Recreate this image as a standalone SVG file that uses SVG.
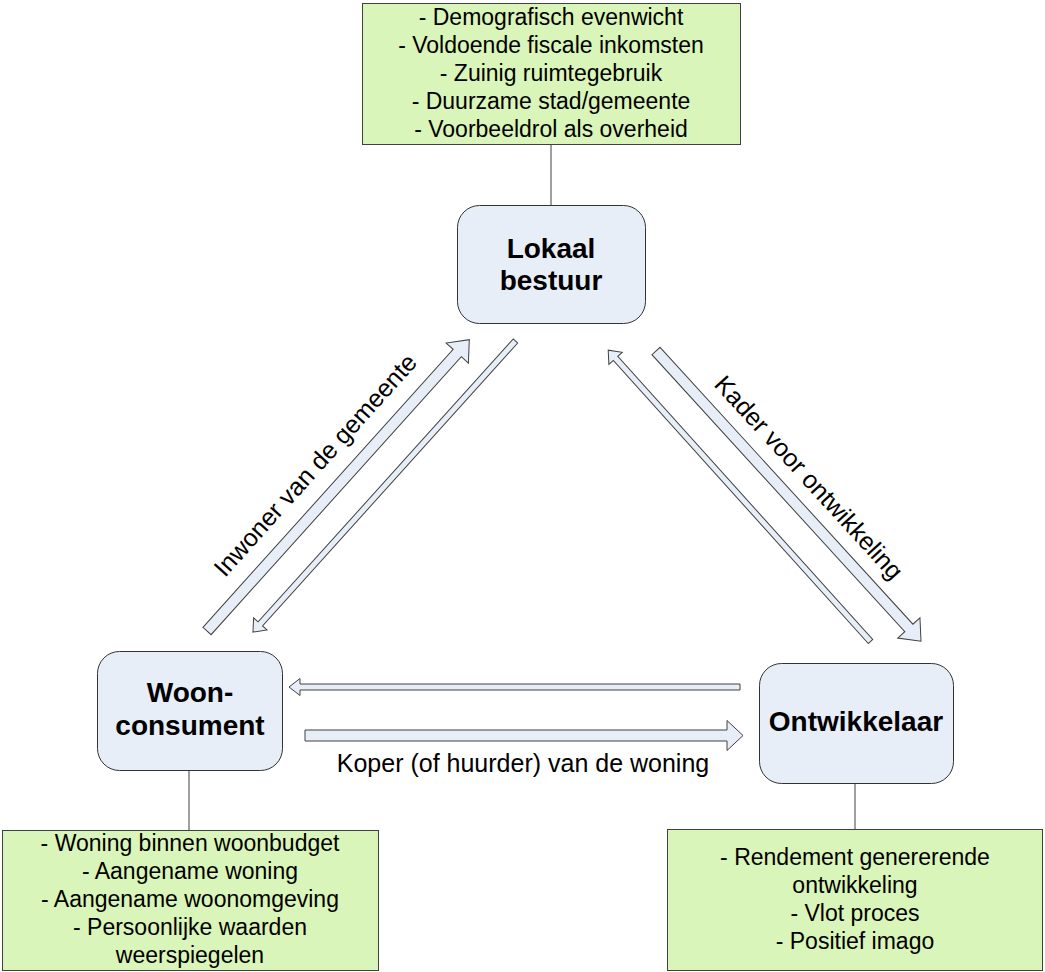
<svg xmlns="http://www.w3.org/2000/svg" width="1045" height="972" viewBox="0 0 1045 972">
<style>
.goal{fill:#d9f5b9;stroke:#404040;stroke-width:1}
.node{fill:#e8eef8;stroke:#333;stroke-width:1}
.gt{font-family:"Liberation Sans",Arial,sans-serif;font-size:23px;fill:#000;text-anchor:middle}
.nt{font-family:"Liberation Sans",Arial,sans-serif;font-size:28px;font-weight:bold;fill:#000;text-anchor:middle}
.lt{font-family:"Liberation Sans",Arial,sans-serif;font-size:25px;fill:#000;text-anchor:middle}
.arr{fill:#e8eef8;stroke:#404040;stroke-width:1}
.ln{stroke:#404040;stroke-width:1;fill:none}
</style>
<rect width="1045" height="972" fill="#fff"/>
<g id="connectors">
<line class="ln" x1="551" y1="144" x2="551" y2="205"/>
<line class="ln" x1="189" y1="770" x2="189" y2="830"/>
<line class="ln" x1="855" y1="783" x2="855" y2="829"/>
<polygon class="arr" transform="translate(207,631) rotate(-48)" points="0,-5.5 374,-5.5 374,-15 392,0 374,15 374,5.5 0,5.5"/>
<polygon class="arr" transform="translate(515.5,341) rotate(132.05)" points="0,-3 381,-3 381,-9 392,0 381,9 381,3 0,3"/>
<polygon class="arr" transform="translate(870.5,641.5) rotate(-132)" points="0,-3 381,-3 381,-9 392,0 381,9 381,3 0,3"/>
<polygon class="arr" transform="translate(656,351) rotate(47.6)" points="0,-5.5 375,-5.5 375,-15 393,0 375,15 375,5.5 0,5.5"/>
<polygon class="arr" transform="translate(740,687) rotate(180)" points="0,-3 440,-3 440,-8.5 451,0 440,8.5 440,3 0,3"/>
<polygon class="arr" transform="translate(305,735.5)" points="0,-5.5 422,-5.5 422,-15 438,0 422,15 422,5.5 0,5.5"/>
<text class="lt" transform="translate(338,485.5) rotate(-48)" x="0" y="-22">Inwoner van de gemeente</text>
<text class="lt" transform="translate(788.5,496) rotate(47.6)" x="0" y="-19">Kader voor ontwikkeling</text>
<text class="lt" x="523" y="772">Koper (of huurder) van de woning</text>
</g>
<g id="goals-bestuur">
<rect class="goal" x="362.5" y="3.5" width="378" height="141"/>
<text class="gt" x="551" y="25">- Demografisch evenwicht</text>
<text class="gt" x="551" y="53">- Voldoende fiscale inkomsten</text>
<text class="gt" x="551" y="81">- Zuinig ruimtegebruik</text>
<text class="gt" x="551" y="109">- Duurzame stad/gemeente</text>
<text class="gt" x="551" y="137">- Voorbeeldrol als overheid</text>
</g>
<g id="lokaal-bestuur">
<rect class="node" x="457.5" y="205.5" width="188" height="118" rx="22"/>
<text class="nt" x="551" y="258">Lokaal</text>
<text class="nt" x="551" y="290">bestuur</text>
</g>
<g id="woonconsument">
<rect class="node" x="97.5" y="651.5" width="185" height="119" rx="22"/>
<text class="nt" x="190" y="702">Woon-</text>
<text class="nt" x="190" y="735">consument</text>
</g>
<g id="ontwikkelaar">
<rect class="node" x="759.5" y="663.5" width="194" height="120" rx="22"/>
<text class="nt" x="856" y="731">Ontwikkelaar</text>
</g>
<g id="goals-consument">
<rect class="goal" x="2.5" y="830.5" width="376" height="140"/>
<text class="gt" x="190" y="851">- Woning binnen woonbudget</text>
<text class="gt" x="190" y="879">- Aangename woning</text>
<text class="gt" x="190" y="907">- Aangename woonomgeving</text>
<text class="gt" x="190" y="935">- Persoonlijke waarden</text>
<text class="gt" x="190" y="963">weerspiegelen</text>
</g>
<g id="goals-ontwikkelaar">
<rect class="goal" x="667.5" y="829.5" width="375" height="141"/>
<text class="gt" x="855" y="865">- Rendement genererende</text>
<text class="gt" x="855" y="893">ontwikkeling</text>
<text class="gt" x="855" y="921">- Vlot proces</text>
<text class="gt" x="855" y="949">- Positief imago</text>
</g>
</svg>
